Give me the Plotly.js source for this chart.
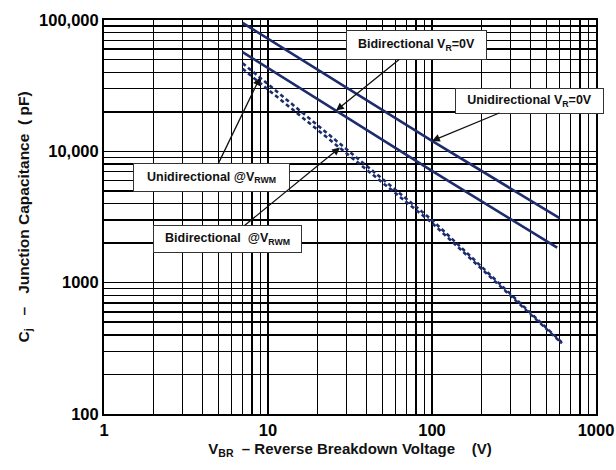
<!DOCTYPE html>
<html>
<head>
<meta charset="utf-8">
<script src="https://cdn.plot.ly/plotly-3.0.1.min.js"></script>
<style>html,body{margin:0;padding:0;background:#fff}#chart{width:616px;height:470px}</style>
</head>
<body>
<div id="chart"></div>
<script>
// ---- data ----
var uniVr0_V = [7, 100, 600];
var uniVr0_C = [95000, 12000, 3100];
var biVr0_V = [7, 100, 580];
var biVr0_C = [57000, 7100, 1850];
var uniVrwm_V = [7, 100, 620];
var uniVrwm_C = [46900, 3000, 350];
var biVrwm_V = [7, 100, 620];
var biVrwm_C = [42500, 2850, 345];

var xTickVals = [1, 10, 100, 1000];
var xTickText = ['1', '10', '100', '1000'];
var yTickVals = [100, 1000, 10000, 100000];
var yTickText = ['100', '1000', '10,000', '100,000'];

var navy = '#1c2c6c';
var minorVals = [];
for (var d = 0; d < 4; d++) { for (var k = 2; k <= 9; k++) { minorVals.push(k * Math.pow(10, d)); } }
var minorY = [];
for (var d2 = 2; d2 < 5; d2++) { for (var k2 = 2; k2 <= 9; k2++) { minorY.push(k2 * Math.pow(10, d2)); } }

var traces = [
  {x: uniVr0_V, y: uniVr0_C, mode: 'lines', line: {color: navy, width: 2.6}},
  {x: biVr0_V, y: biVr0_C, mode: 'lines', line: {color: navy, width: 2.6}},
  {x: uniVrwm_V, y: uniVrwm_C, mode: 'lines', line: {color: navy, width: 2.6, dash: '4px,3px'}},
  {x: biVrwm_V, y: biVrwm_C, mode: 'lines', line: {color: navy, width: 2.6, dash: '4px,3px'}}
];

function lg(v){ return Math.log10(v); }
var fam = 'Liberation Sans, Arial, sans-serif';
var font = {family: fam, size: 12.5, color: '#111', weight: 'bold'};
var common = {xref: 'x', yref: 'y', axref: 'x', ayref: 'y', showarrow: true, arrowhead: 2, arrowsize: 1.2,
  arrowwidth: 1.3, arrowcolor: '#111', bgcolor: '#fff', bordercolor: '#333', borderwidth: 1, borderpad: 6, font: font};

var ann = [
  Object.assign({}, common, {text: 'Bidirectional V<sub>R</sub>=0V', x: 1.415, y: 4.31, ax: 1.9085, ay: 4.81, width: 127, height: 16}),
  Object.assign({}, common, {text: 'Unidirectional V<sub>R</sub>=0V', x: lg(100), y: lg(12000), ax: 2.5945, ay: 4.387, width: 135, height: 12}),
  Object.assign({}, common, {text: 'Unidirectional @V<sub>RWM</sub>', x: 0.951, y: 4.5616, ax: 0.6555, ay: 3.80, width: 143, height: 15}),
  Object.assign({}, common, {text: 'Bidirectional  @V<sub>RWM</sub>', x: 1.439, y: 4.029, ax: 0.756, ay: 3.3325, width: 135, height: 14})
];

var axisCommon = {
  type: 'log', showgrid: true, gridcolor: '#000', gridwidth: 1.5,
  showline: true, linecolor: '#000', linewidth: 2, mirror: true, ticks: '', zeroline: false,
  tickfont: {family: fam, size: 16.5, color: '#000', weight: 'bold'}
};

var layout = {
  width: 616, height: 470,
  margin: {l: 104, r: 20, t: 20, b: 56},
  paper_bgcolor: '#fff', plot_bgcolor: '#fff',
  showlegend: false,
  xaxis: Object.assign({}, axisCommon, {
    range: [0, 3], tickmode: 'array', tickvals: xTickVals, ticktext: xTickText,
    minor: {tickmode: 'array', tickvals: minorVals, showgrid: true, gridcolor: '#000', gridwidth: 1.5, ticks: ''},
    title: {text: 'V<sub>BR</sub>  \u2013 Reverse Breakdown Voltage    (V)', standoff: 6,
      font: {family: fam, size: 15, color: '#111', weight: 'bold'}}
  }),
  yaxis: Object.assign({}, axisCommon, {
    range: [2, 5], tickmode: 'array', tickvals: yTickVals, ticktext: yTickText,
    minor: {tickmode: 'array', tickvals: minorY, showgrid: true, gridcolor: '#000', gridwidth: 1.5, ticks: ''},
    title: {text: 'C<sub>j</sub>   \u2013   Junction Capacitance  ( pF)', standoff: 6,
      font: {family: fam, size: 15.5, color: '#111', weight: 'bold'}}
  }),
  annotations: ann
};

Plotly.newPlot('chart', traces, layout, {staticPlot: true, displayModeBar: false});
</script>
</body>
</html>
